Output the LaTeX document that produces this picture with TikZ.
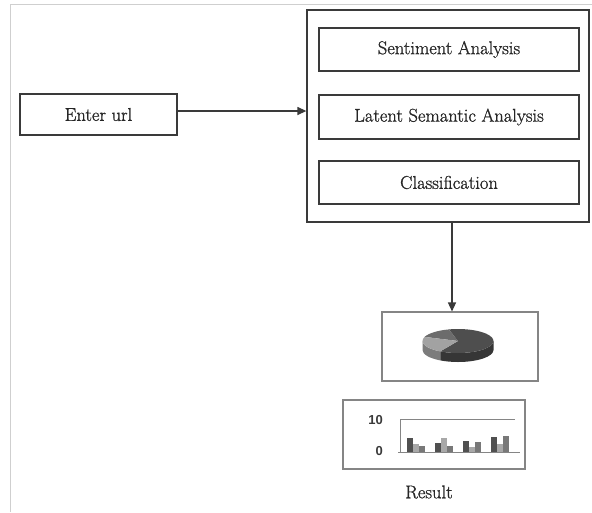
\documentclass[tikz,border=0pt]{standalone}
\usepackage{fontspec}
\newfontfamily\axisfont{Liberation Sans}
\newfontfamily\labelfam{Latin Modern Roman}[FakeBold=1.0]
\usetikzlibrary{arrows.meta,calc}
\definecolor{boxline}{HTML}{3A3A3A}
\definecolor{txt}{HTML}{262626}
\definecolor{framegray}{HTML}{CFCFCF}
\definecolor{chartline}{HTML}{858585}
\definecolor{bardark}{HTML}{505050}
\definecolor{barlight}{HTML}{A8A8A8}
\definecolor{barmid}{HTML}{787878}
\definecolor{piedark}{HTML}{4E4E4E}
\definecolor{piemid}{HTML}{6C6C6C}
\definecolor{pielight}{HTML}{A2A2A2}
\definecolor{sidedark}{HTML}{363636}
\definecolor{sidelight}{HTML}{7C7C7C}
\newcommand{\labelfont}{\labelfam\fontsize{18.5}{22}\selectfont}
\begin{document}
\begin{tikzpicture}[x=1pt,y=-1pt,
  box/.style={draw=boxline,line width=1.3pt,fill=white,inner sep=0pt,
    font=\labelfont,text=txt},
  chartbox/.style={draw=chartline,line width=1.1pt,fill=white,inner sep=0pt},
  arr/.style={draw=boxline,line width=1.3pt,-{Triangle[length=9pt,width=8pt]}},
  axis/.style={draw=chartline,line width=0.9pt},
  ticklabel/.style={font=\axisfont\bfseries\fontsize{13}{15}\selectfont,text=boxline,anchor=east,inner sep=0pt},
  pieaxes/.style={x radius=35.5pt,y radius=12pt},
]
\useasboundingbox (0,0) rectangle (592,512);
\fill[white] (0,0) rectangle (592,512);
% page frame
\draw[framegray,line width=1pt] (10,512) -- (10,4) -- (592,4);

% input and processing stages
\node[box,minimum width=157pt,minimum height=41pt] (url) at (98.5,114.5) {Enter url};
\node[box,minimum width=282pt,minimum height=212pt] (proc) at (448,116) {};
\node[box,minimum width=260pt,minimum height=43pt] (sa) at (449,49.5) {Sentiment Analysis};
\node[box,minimum width=260pt,minimum height=44pt] (lsa) at (449,117) {Latent Semantic Analysis};
\node[box,minimum width=260pt,minimum height=43pt] (cls) at (449,182.5) {Classification};

% output charts
\node[chartbox,minimum width=156pt,minimum height=69pt] (pie) at (460,346.5) {};
\node[chartbox,minimum width=182pt,minimum height=69pt] (bars) at (434,434.5) {};
\node[font=\labelfont,text=txt,inner sep=0pt] (res) at (429,492) {Result};

% connectors
\draw[arr] ([yshift=3.5pt]url.east) -- ([yshift=3.5pt]url.east -| proc.west);
\draw[arr] ([xshift=4pt]proc.south) -- ([xshift=4pt]proc.south |- pie.north);

% 3-D pie chart
\coordinate (c) at (458,341);
\fill[sidelight] ([shift={(180:35.5pt and 12pt)}]c) arc[start angle=180,end angle=240,pieaxes]
  -- ++(0,9) arc[start angle=240,end angle=180,pieaxes] -- cycle;
\fill[sidedark] ([shift={(240:35.5pt and 12pt)}]c) arc[start angle=240,end angle=360,pieaxes]
  -- ++(0,9) arc[start angle=360,end angle=240,pieaxes] -- cycle;
\fill[piedark] (c) -- ([shift={(240:35.5pt and 12pt)}]c) arc[start angle=240,end angle=465,pieaxes] -- cycle;
\fill[piemid] (c) -- ([shift={(105:35.5pt and 12pt)}]c) arc[start angle=105,end angle=160,pieaxes] -- cycle;
\fill[pielight] (c) -- ([shift={(160:35.5pt and 12pt)}]c) arc[start angle=160,end angle=240,pieaxes] -- cycle;

% bar chart
\draw[axis] (400,419) -- (515,419);
\draw[axis] (400,419) -- (400,452);
\draw[axis] (398,452) -- (520,452);
\node[ticklabel] (t10) at (383,420) {10};
\node[ticklabel] (t0) at (383,451) {0};
\foreach \g/\a/\b/\cc in {407/437.7/444.3/445.7, 435/443.3/438.3/445.7, 463/441/446.7/442.3, 491/436.7/443.7/435.7}{
  \fill[bardark] (\g,452) rectangle (\g+6,\a);
  \fill[barlight] (\g+6,452) rectangle (\g+12,\b);
  \fill[barmid] (\g+12,452) rectangle (\g+18,\cc);
}
\end{tikzpicture}
\end{document}
